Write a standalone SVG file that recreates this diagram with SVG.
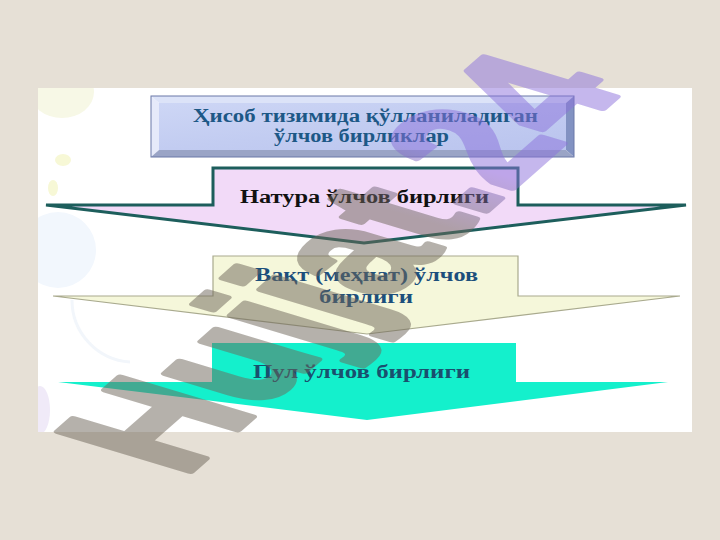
<svg xmlns="http://www.w3.org/2000/svg" width="720" height="540" viewBox="0 0 720 540">
<defs>
<style>
.lbl{font-family:"Liberation Serif","Times New Roman",serif;font-weight:bold;font-size:18px;}
.blue{fill:#1D5886;}
.wm{font-family:"Liberation Sans",Arial,sans-serif;font-weight:bold;font-size:100px;}
</style>
<linearGradient id="face" x1="0" y1="0" x2="1" y2="1">
<stop offset="0" stop-color="#CDD6F5"/>
<stop offset="0.5" stop-color="#C2CCF1"/>
<stop offset="1" stop-color="#BAC4EE"/>
</linearGradient>
<linearGradient id="wmg" gradientUnits="userSpaceOnUse" x1="262" y1="0" x2="318" y2="0">
<stop offset="0" stop-color="#6E665A"/>
<stop offset="1" stop-color="#8C72DC"/>
</linearGradient>
<clipPath id="pclip"><rect x="38" y="88" width="654" height="344"/></clipPath>
</defs>
<rect x="0" y="0" width="720" height="540" fill="#E6E0D6"/>
<g id="panel">
<rect x="38" y="88" width="654" height="344" fill="#FFFFFF"/>
<g clip-path="url(#pclip)">
<ellipse cx="62" cy="92" rx="32" ry="26" fill="#F7F8E6"/>
<ellipse cx="63" cy="160" rx="8" ry="6" fill="#F7F8D6"/>
<ellipse cx="53" cy="188" rx="5" ry="8" fill="#F7F8D6"/>
<circle cx="58" cy="250" r="38" fill="#F2F7FD"/>
<path d="M72,300 A62,62 0 0 0 130,362" fill="none" stroke="#F2F6FB" stroke-width="3"/>
<ellipse cx="40" cy="410" rx="10" ry="24" fill="#F0EAF8"/>
</g>
</g>
<g id="title">
<rect x="159" y="103" width="407" height="47" fill="url(#face)"/>
<polygon points="151,96 574,96 566,103 159,103" fill="#DCE3F8"/>
<polygon points="151,96 159,103 159,150 151,157" fill="#E6EAFA"/>
<polygon points="574,96 574,157 566,150 566,103" fill="#8292C2"/>
<polygon points="151,157 574,157 566,150 159,150" fill="#9AA4C6"/>
<rect x="151" y="96" width="423" height="61" fill="none" stroke="#6A78A8" stroke-width="1"/>
<text class="lbl blue" x="193" y="122" textLength="345" lengthAdjust="spacingAndGlyphs">Ҳисоб тизимида қўлланиладиган</text>
<text class="lbl blue" x="274" y="142" textLength="175" lengthAdjust="spacingAndGlyphs">ўлчов бирликлар</text>
</g>
<g id="arrow1">
<path d="M213,168 H518 V205 H686 L364,243 L46,205 H213 Z" fill="#F2DAF8" stroke="#1D5E5C" stroke-width="3" stroke-linejoin="miter"/>
<text class="lbl" fill="#111111" x="240" y="203" textLength="249" lengthAdjust="spacingAndGlyphs">Натура ўлчов бирлиги</text>
</g>
<g id="arrow2">
<path d="M213,256 H518 V296 H680 L367,334 L53,296 H213 Z" fill="#F5F7DA" stroke="#A9AA8E" stroke-width="1.2"/>
<text class="lbl" fill="#1C4F7C" x="255" y="281" textLength="223" lengthAdjust="spacingAndGlyphs">Вақт (меҳнат) ўлчов</text>
<text class="lbl" fill="#1C4F7C" x="319" y="303" textLength="94" lengthAdjust="spacingAndGlyphs">бирлиги</text>
</g>
<g id="arrow3">
<path d="M212,343 H516 V382 H668 L367,420 L58,382 H212 Z" fill="#14F0CC"/>
<text class="lbl" fill="#1A4F6E" x="253" y="378" textLength="217" lengthAdjust="spacingAndGlyphs">Пул ўлчов бирлиги</text>
</g>
<g id="connectors"></g>
<g id="watermark" opacity="0.5">
<text class="wm" fill="url(#wmg)" stroke="url(#wmg)" stroke-width="4" stroke-linejoin="round" transform="matrix(1.065,-0.937,1.92,0.58,183,478)" x="0" y="0">Hujjat.24</text>
</g>
</svg>
